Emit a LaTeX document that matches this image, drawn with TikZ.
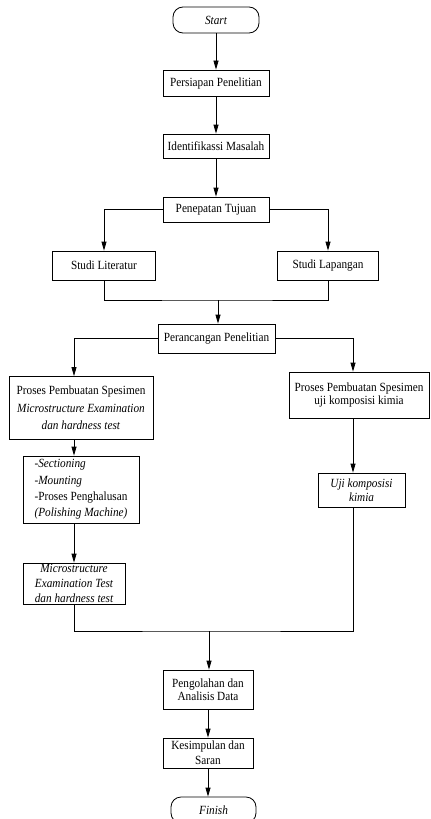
\documentclass[tikz,border=0pt]{standalone}
\usepackage{fontspec}
\setmainfont{Liberation Serif}[FakeStretch=0.9]
\usetikzlibrary{arrows.meta}
\newcommand{\boxfont}[1]{\fontsize{12.5bp}{#1}\selectfont}

\begin{document}
\begin{tikzpicture}[x = 1bp, y = -1bp, line width = 0.8bp,
	box/.style = {draw, rectangle, inner sep = 0pt, align = center, font = \boxfont{15bp}},
	term/.style = {box, rounded corners = 10bp, font = \boxfont{15bp}\itshape},
	arr/.style = {-{Triangle[length = 9bp, width = 5bp]}}]
	
		\useasboundingbox (0, 0) rectangle (430, 819);
		
		\node[term, minimum width = 86bp, minimum height = 26bp] (start) at (216, 20) {Start};
		\node[box, minimum width = 106bp, minimum height = 26bp] (persiapan) at (216, 83) {Persiapan Penelitian};
		\node[box, minimum width = 106bp, minimum height = 24bp] (identifikasi) at (216, 146) {Identifikassi Masalah};
		\node[box, minimum width = 106bp, minimum height = 25bp] (penepatan) at (216, 209.5) {Penepatan Tujuan};
		
		\node[box, minimum width = 103bp, minimum height = 29bp] (literatur) at (104, 265.5) {Studi Literatur};
		\node[box, minimum width = 101bp, minimum height = 29bp] (lapangan) at (328, 265.5) {Studi Lapangan};
		
		\node[box, minimum width = 117bp, minimum height = 29bp] (perancangan) at (216.5, 338.5) {Perancangan Penelitian};
		
		\node[box, minimum width = 144bp, minimum height = 63bp, font = \boxfont{17.5bp}] (spesimenA) at (81, 408) {Proses Pembuatan Spesimen\\ \textit{Microstructure Examination}\\ \textit{dan hardness test}};
		\node[box, minimum width = 140bp, minimum height = 46bp, font = \boxfont{12.5bp}] (spesimenB) at (359, 395) {Proses Pembuatan Spesimen\\ uji komposisi kimia};
		
		\node[box, align = left, minimum width = 116bp, minimum height = 67bp, font = \boxfont{16.3bp}] (penghalusan) at (81, 489.5) {\textit{-Sectioning}\\ \textit{-Mounting}\\ -Proses Penghalusan\\ \textit{(Polishing Machine)}};
		\node[box, minimum width = 87bp, minimum height = 34bp, font = \boxfont{14bp}\itshape] (ujikimia) at (361.5, 490) {Uji komposisi\\ kimia};
		\node[box, minimum width = 102bp, minimum height = 41bp, font = \boxfont{14.8bp}\itshape] (mikro) at (74, 583.5) {Microstructure\\ Examination Test\\ dan hardness test};
		
		\node[box, minimum width = 90bp, minimum height = 39bp, font = \boxfont{12.5bp}] (pengolahan) at (208, 689.5) {Pengolahan dan\\ Analisis Data};
		\node[box, minimum width = 90bp, minimum height = 30bp, font = \boxfont{15bp}] (kesimpulan) at (208, 753) {Kesimpulan dan\\ Saran};
		\node[term, minimum width = 85bp, minimum height = 26bp] (finish) at (213.5, 810) {Finish};
		
		\coordinate (kolomB) at (353, 0);
		\coordinate (gabung1) at (218, 300);
		\coordinate (gabung2) at (209, 631);
		
		\draw[arr] (start) -- (persiapan);
		\draw[arr] (persiapan) -- (identifikasi);
		\draw[arr] (identifikasi) -- (penepatan);
		
		\draw[arr] (penepatan.west) -| (literatur.north);
		\draw[arr] (penepatan.east) -| (lapangan.north);
		\draw (literatur.south) |- (gabung1) -| (lapangan.south);
		\draw[arr] (gabung1) -- (gabung1 |- perancangan.north);
		
		\draw[arr] (perancangan.west) -| (mikro.north |- spesimenA.north);
		\draw[arr] (perancangan.east) -| (kolomB |- spesimenB.north);
		\draw[arr] (mikro.north |- spesimenA.south) -- (mikro.north |- penghalusan.north);
		\draw[arr] (mikro.north |- penghalusan.south) -- (mikro.north);
		\draw[arr] (kolomB |- spesimenB.south) -- (kolomB |- ujikimia.north);
		
		\draw (mikro.south) |- (gabung2) -| (kolomB |- ujikimia.south);
		\draw[arr] (gabung2) -- (gabung2 |- pengolahan.north);
		\draw[arr] (pengolahan) -- (kesimpulan);
		\draw[arr] (kesimpulan.south) -- (kesimpulan.south |- finish.north);
		
	\end{tikzpicture}
\end{document}
